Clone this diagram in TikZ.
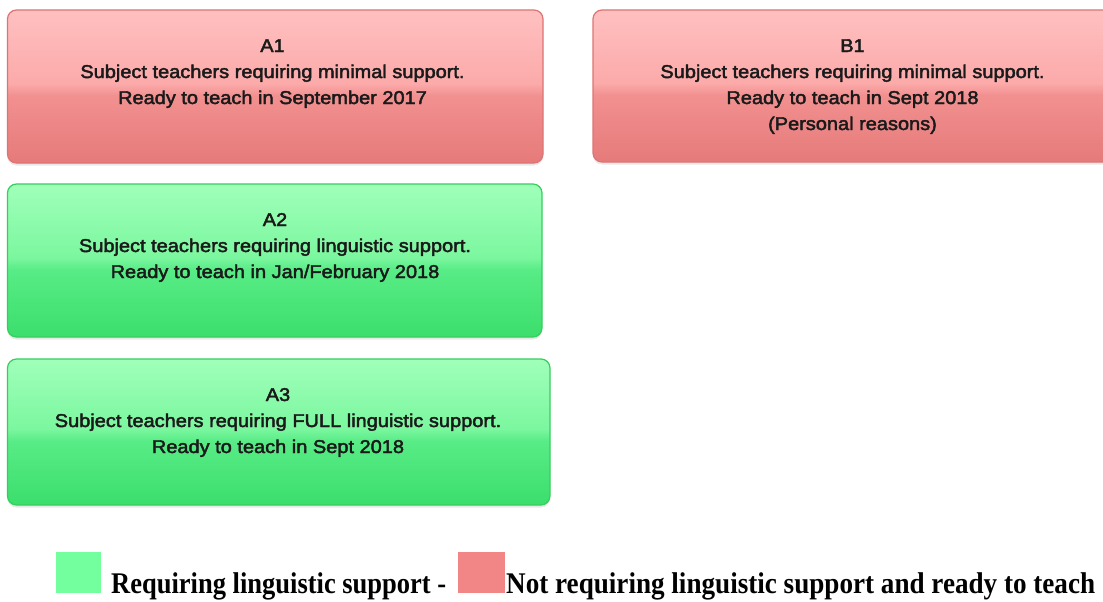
\documentclass[tikz,border=0pt]{standalone}
\usepackage{fontspec}
\usepackage{graphicx}
\usetikzlibrary{shadows}
\newfontfamily\boxfont[FakeBold=2.4,FakeStretch=1.08]{Liberation Sans}
\newfontfamily\legfont{Liberation Serif}
\definecolor{redB}{HTML}{E67A7A}
\definecolor{redM}{HTML}{F29090}
\definecolor{redU}{HTML}{FCAAAA}
\definecolor{redT}{HTML}{FFC0C0}
\definecolor{redLine}{HTML}{DE7474}
\definecolor{grnB}{HTML}{3BDE6C}
\definecolor{grnM}{HTML}{58EC86}
\definecolor{grnU}{HTML}{7BF79F}
\definecolor{grnT}{HTML}{A0FFBA}
\definecolor{grnLine}{HTML}{36CF5F}
\definecolor{legGreen}{HTML}{74FF9E}
\definecolor{legRed}{HTML}{F28686}
\definecolor{txt}{HTML}{1A1A1A}
\pgfdeclareverticalshading{redgloss}{100bp}{color(0bp)=(redB); color(25bp)=(redB); color(47bp)=(redM); color(51bp)=(redU); color(75bp)=(redT); color(100bp)=(redT)}
\pgfdeclareverticalshading{grngloss}{100bp}{color(0bp)=(grnB); color(25bp)=(grnB); color(47bp)=(grnM); color(51bp)=(grnU); color(75bp)=(grnT); color(100bp)=(grnT)}
\tikzset{
  card/.style={rectangle, rounded corners=9pt, line width=1.2pt, inner sep=0pt,
    drop shadow={opacity=0.18, shadow xshift=0pt, shadow yshift=-2.5pt}},
  redcard/.style={card, draw=redLine, shading=redgloss},
  grncard/.style={card, draw=grnLine, shading=grngloss},
  cardtext/.style={anchor=base, align=center, inner sep=0pt, text=txt,
    font=\boxfont\fontsize{18.5}{26}\selectfont},
  legbox/.style={inner sep=0pt, anchor=north west},
  legtext/.style={anchor=base west, inner sep=0pt, text=black}
}
\begin{document}
\begin{tikzpicture}[x=1pt,y=-1pt]
\useasboundingbox (0,0) rectangle (1103,602);
\fill[white] (0,0) rectangle (1103,602);
\begin{scope}
\clip (0,0) rectangle (1103,602);
\node[redcard, minimum width=535.5pt, minimum height=153pt] (a1) at (275.25,86.5) {};
\node[redcard, minimum width=519pt, minimum height=152pt] (b1) at (852.5,86) {};
\node[grncard, minimum width=534.5pt, minimum height=153pt] (a2) at (274.75,260.5) {};
\node[grncard, minimum width=542.5pt, minimum height=146pt] (a3) at (278.75,432) {};
\end{scope}
% anchor=base is the baseline of the last line
\node[cardtext] (a1t) at (272.5,104) {A1\\Subject teachers requiring minimal support.\\Ready to teach in September 2017};
\node[cardtext] (b1t) at (852.5,130) {B1\\Subject teachers requiring minimal support.\\Ready to teach in Sept 2018\\(Personal reasons)};
\node[cardtext] (a2t) at (275,278) {A2\\Subject teachers requiring linguistic support.\\Ready to teach in Jan/February 2018};
\node[cardtext] (a3t) at (278,453) {A3\\Subject teachers requiring FULL linguistic support.\\Ready to teach in Sept 2018};
\node[legbox, fill=legGreen, minimum width=45pt, minimum height=41pt] (lg) at (56,552) {};
\node[legbox, fill=legRed, minimum width=47pt, minimum height=41pt] (lr) at (458,552) {};
\node[legtext] (lgt) at (111,593) {\resizebox{335pt}{\height}{\legfont\bfseries\fontsize{30}{36}\selectfont Requiring linguistic support -}};
\node[legtext] (lrt) at (506,593) {\resizebox{589pt}{\height}{\legfont\bfseries\fontsize{30}{36}\selectfont Not requiring linguistic support and ready to teach}};
\end{tikzpicture}
\end{document}
